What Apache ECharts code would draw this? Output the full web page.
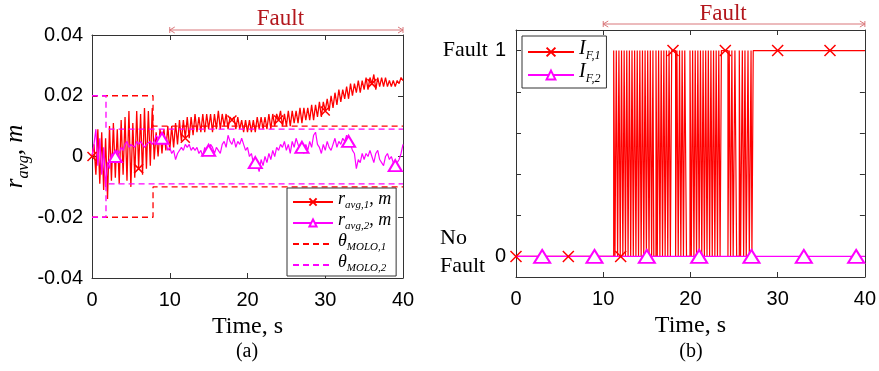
<!DOCTYPE html>
<html>
<head>
<meta charset="utf-8">
<script src="https://cdn.jsdelivr.net/npm/echarts@6/dist/echarts.min.js"></script>
<style>
html,body{margin:0;padding:0;background:#fff;}
#main{width:879px;height:371px;}
</style>
</head>
<body>
<div id="main"></div>
<script>
// panel (a): residuals sampled every 0.25 s, one row per second
var dtA = 0.25;
var r1 = [
  0, 0.004, -0.006, 0.009,
  -0.009, 0.008, -0.011, 0.006,
  -0.014, 0.010, -0.008, 0.011,
  -0.007, 0.009, -0.009, 0.012,
  -0.006, 0.013, -0.008, 0.015,
  -0.010, 0.011, -0.007, 0.015,
  -0.004, 0.014, -0.006, 0.016,
  -0.004, 0.015, -0.003, 0.016,
  -0.001, 0.008, 0.000, 0.009,
  0.001, 0.009, 0.002, 0.010,
  0.002, 0.010, 0.003, 0.011,
  0.004, 0.012, 0.005, 0.012,
  0.006, 0.013, 0.006, 0.013,
  0.007, 0.014, 0.008, 0.013,
  0.008, 0.014, 0.008, 0.014,
  0.009, 0.014, 0.008, 0.014,
  0.009, 0.015, 0.009, 0.014,
  0.010, 0.014, 0.009, 0.013,
  0.012, 0.013, 0.009, 0.013,
  0.009, 0.012, 0.008, 0.012,
  0.008, 0.012, 0.008, 0.012,
  0.008, 0.013, 0.009, 0.013,
  0.009, 0.013, 0.009, 0.014,
  0.009, 0.014, 0.010, 0.014,
  0.012, 0.015, 0.010, 0.014,
  0.010, 0.015, 0.010, 0.015,
  0.011, 0.015, 0.011, 0.016,
  0.011, 0.016, 0.012, 0.016,
  0.012, 0.017, 0.012, 0.017,
  0.013, 0.018, 0.013, 0.018,
  0.015, 0.019, 0.015, 0.020,
  0.016, 0.021, 0.017, 0.022,
  0.018, 0.022, 0.019, 0.023,
  0.019, 0.024, 0.020, 0.024,
  0.021, 0.025, 0.021, 0.025,
  0.022, 0.026, 0.022, 0.026,
  0.024, 0.027, 0.022, 0.026,
  0.023, 0.026, 0.023, 0.026,
  0.023, 0.025, 0.023, 0.025,
  0.023, 0.025, 0.024, 0.026,
  0.025
];
var r2 = [
  0, 0.004, 0.009, -0.003,
  0.006, -0.006, 0.003, -0.010,
  -0.002, -0.004, 0.001, -0.001,
  0.000, 0.002, 0.001, 0.003,
  0.002, 0.004, 0.005, 0.003,
  0.004, 0.004, 0.003, 0.005,
  0.004, 0.005, 0.004, 0.003,
  0.004, 0.004, 0.005, 0.004,
  0.005, 0.007, 0.006, 0.005,
  0.006, 0.004, 0.005, 0.002,
  0.003, 0.001, 0.002, -0.001,
  0.001, 0.001, 0.003, 0.002,
  0.004, 0.003, 0.004, 0.002,
  0.003, 0.002, 0.003, 0.001,
  0.002, 0.000, 0.003, 0.001,
  0.002, 0.004, 0.003, 0.001,
  0.003, 0.002, 0.001, 0.004,
  0.005, 0.003, 0.007, 0.005,
  0.004, 0.006, 0.003, 0.005,
  0.004, 0.006, 0.004, 0.002,
  0.003, 0.000, 0.001, -0.002,
  -0.002, -0.003, -0.005, -0.001,
  -0.003, 0.000, -0.002, 0.001,
  -0.001, 0.002, 0.000, 0.003,
  0.002, 0.004, 0.003, 0.005,
  0.002, 0.004, 0.001, 0.005,
  0.003, 0.006, 0.004, 0.002,
  0.003, 0.001, 0.004, 0.002,
  0.005, 0.003, 0.007, 0.008,
  0.004, 0.003, 0.001, 0.004,
  0.002, 0.005, 0.003, 0.002,
  0.004, 0.006, 0.003, 0.005,
  0.004, 0.006, 0.005, 0.007,
  0.005, 0.004, 0.002, 0.001,
  -0.004, -0.001, -0.002, 0.001,
  -0.001, 0.001, 0.000, 0.002,
  0.000, -0.002, 0.001, 0.002,
  -0.001, -0.002, -0.003, 0.000,
  0.001, -0.001, 0.000, -0.002,
  -0.003, -0.002, -0.001, 0.001,
  0.004
];
var r1Marks = [0, 6, 12, 18, 24, 30, 36];
var r2Marks = [3, 9, 15, 21, 27, 33, 39];

// thresholds
var th1Time = [0, 7.85, 7.85, 40];
var th1Up = [0.02, 0.02, 0.01, 0.01];
var th1Lo = [-0.02, -0.02, -0.01, -0.01];
var th2Time = [0, 1.8, 1.8, 40];
var th2Up = [0.02, 0.02, 0.009, 0.009];
var th2Lo = [-0.02, -0.02, -0.009, -0.009];

// panel (b): intervals where I_F,1 = 1
var iF1On = [
  [11.2,11.35],[11.5,11.65],[11.8,11.95],[12.1,12.25],[12.4,12.55],[12.7,12.85],
  [13.0,13.15],[13.3,13.45],[13.6,13.75],[13.9,14.05],[14.2,14.35],[14.5,14.65],
  [14.8,14.95],[15.1,15.25],[15.4,15.55],[15.7,15.8],[16.05,16.2],[16.35,16.5],
  [16.65,16.8],[16.95,17.1],[17.25,17.4],[17.55,17.7],[17.85,18.3],[18.45,18.6],
  [18.75,18.9],[19.05,19.2],[19.35,19.55],[19.95,20.1],[20.25,20.4],[20.55,20.7],
  [20.85,21.0],[21.15,21.3],[21.45,21.6],[21.75,21.9],[22.05,22.2],[22.35,22.5],
  [22.65,22.8],[22.95,23.1],[23.25,23.4],[23.55,24.3],[24.45,24.6],[24.75,24.9],
  [25.1,25.3],[25.6,25.75],[25.95,26.1],[26.25,26.4],[26.6,26.75],[26.95,27.05],
  [27.2,40]
];
var iF1Marks = [0, 6, 12, 18, 24, 30, 36];
var iF1MarkVal = [0, 0, 0, 1, 1, 1, 1];
var iF2Time = [0, 3, 9, 15, 21, 27, 33, 39, 40];
var iF2Val = [0, 0, 0, 0, 0, 0, 0, 0, 0];
var iF2Marks = [3, 9, 15, 21, 27, 33, 39];

var RED = '#ff0000', MAG = '#ff00ff', AX = '#333333';
var crossPath = 'path://M0,0L10,10M10,0L0,10';
var serif = '"Liberation Serif", "DejaVu Serif", serif';
var sans = '"Liberation Sans", Arial, sans-serif';

function withMarks(times, vals, marks) {
  return times.map(function (t, i) {
    var p = { value: [t, vals[i]] };
    if (marks.indexOf(t) < 0) p.symbol = 'none';
    return p;
  });
}
var tA = r1.map(function (v, i) { return i * dtA; });
var r1Data = withMarks(tA, r1, r1Marks);
var r2Data = withMarks(tA, r2, r2Marks);

function pairs(t, v) { return t.map(function (x, i) { return [x, v[i]]; }); }

// step signal for I_F,1 plus its marker points
var f1 = [];
iF1On.forEach(function (iv) {
  f1.push({ value: [iv[0], 0], symbol: 'none' });
  f1.push({ value: [iv[0], 1], symbol: 'none' });
  f1.push({ value: [iv[1], 1], symbol: 'none' });
  if (iv[1] < 40) f1.push({ value: [iv[1], 0], symbol: 'none' });
});
iF1Marks.forEach(function (m, i) { f1.push({ value: [m, iF1MarkVal[i]] }); });
f1.sort(function (a, b) { return a.value[0] - b.value[0]; });
var f2 = withMarks(iF2Time, iF2Val, iF2Marks);

function richFor(big, small, pad) {
  return {
    i: { fontFamily: serif, fontStyle: 'italic', fontSize: big, lineHeight: big, padding: [0, 0, pad, 0], verticalAlign: 'bottom', color: '#000' },
    s: { fontFamily: serif, fontStyle: 'italic', fontSize: small, lineHeight: small, verticalAlign: 'bottom', color: '#000' }
  };
}
var legendNames = {
  r1: '{i|r}{s|avg,1}{i|, m}',
  r2: '{i|r}{s|avg,2}{i|, m}',
  th1: '{i|θ}{s|MOLO,1}',
  th2: '{i|θ}{s|MOLO,2}',
  f1: '{i|I}{s|F,1}',
  f2: '{i|I}{s|F,2}'
};

function boxAxis(gridIndex, min, max, pos, ticks) {
  var ax = {
    gridIndex: gridIndex, type: 'value', min: min, max: max, position: pos,
    axisLine: { show: true, onZero: false, lineStyle: { color: AX, width: 1 } },
    axisTick: { show: true, inside: true, length: 5, lineStyle: { color: AX } },
    axisLabel: { show: false },
    splitLine: { show: false }
  };
  if (ticks) ax.axisTick.customValues = ticks; else ax.interval = (max - min) / 4;
  return ax;
}
function mainX(gridIndex) {
  return {
    gridIndex: gridIndex, type: 'value', min: 0, max: 40, interval: 10,
    name: 'Time, s', nameLocation: 'middle', nameGap: 37,
    nameTextStyle: { fontFamily: serif, fontSize: 24, color: '#000' },
    axisLine: { onZero: false, lineStyle: { color: AX } },
    axisTick: { inside: true, length: 5, lineStyle: { color: AX } },
    axisLabel: { fontFamily: sans, fontSize: 20, color: '#000', margin: 12 },
    splitLine: { show: false }
  };
}
var bTicks = [0, 0.2, 0.4, 0.6, 0.8, 1];

var option = {
  animation: false,
  backgroundColor: '#fff',
  grid: [
    { left: 92, top: 35, width: 311, height: 243 },
    { left: 516, top: 30, width: 349, height: 247 }
  ],
  xAxis: [
    mainX(0),
    boxAxis(0, 0, 40, 'top'),
    mainX(1),
    boxAxis(1, 0, 40, 'top')
  ],
  yAxis: [
    {
      gridIndex: 0, type: 'value', min: -0.04, max: 0.04, interval: 0.02,
      name: '{i|r}{s|avg}{i|, m}', nameLocation: 'middle', nameGap: 60, nameRotate: 90,
      nameTextStyle: { rich: richFor(25, 16, 4) },
      axisLine: { onZero: false, lineStyle: { color: AX } },
      axisTick: { inside: true, length: 5, lineStyle: { color: AX } },
      axisLabel: { fontFamily: sans, fontSize: 20, color: '#000', margin: 9 },
      splitLine: { show: false }
    },
    boxAxis(0, -0.04, 0.04, 'right'),
    {
      gridIndex: 1, type: 'value', min: -0.1, max: 1.1,
      axisLine: { onZero: false, lineStyle: { color: AX } },
      axisTick: { inside: true, length: 5, lineStyle: { color: AX }, customValues: bTicks },
      axisLabel: {
        customValues: [0, 1], margin: 10,
        formatter: function (v) { return v === 1 ? '{s|Fault}{n|1}' : '{n|0}'; },
        rich: {
          s: { fontFamily: serif, fontSize: 22, color: '#000', padding: [0, 7, 0, 0] },
          n: { fontFamily: sans, fontSize: 20, color: '#000' }
        }
      },
      splitLine: { show: false }
    },
    boxAxis(1, -0.1, 1.1, 'right', bTicks)
  ],
  legend: [
    {
      data: ['r1', 'r2', { name: 'th1', itemStyle: { opacity: 0 } }, { name: 'th2', itemStyle: { opacity: 0 } }],
      left: 287, top: 188, orient: 'vertical',
      itemWidth: 40, itemHeight: 9, itemGap: 0,
      padding: [2, 5, 2, 5],
      backgroundColor: '#fff', borderColor: AX, borderWidth: 1, borderRadius: 0,
      formatter: function (n) { return legendNames[n]; },
      textStyle: { rich: richFor(18, 11, 3) }
    },
    {
      data: ['f1', 'f2'], left: 522, top: 36, orient: 'vertical',
      itemWidth: 46, itemHeight: 11, itemGap: 0,
      padding: [3, 6, 3, 5],
      backgroundColor: '#fff', borderColor: AX, borderWidth: 1, borderRadius: 0,
      formatter: function (n) { return legendNames[n]; },
      textStyle: { rich: richFor(20, 12, 3) }
    }
  ],
  series: [
    {
      name: 'r1', type: 'line', xAxisIndex: 0, yAxisIndex: 0, data: r1Data,
      symbol: crossPath, symbolSize: 9, symbolKeepAspect: true,
      lineStyle: { color: RED, width: 1.3 },
      itemStyle: { color: RED, borderColor: RED, borderWidth: 1.5 }
    },
    {
      name: 'r2', type: 'line', xAxisIndex: 0, yAxisIndex: 0, data: r2Data,
      symbol: 'emptyTriangle', symbolSize: [13, 11],
      lineStyle: { color: MAG, width: 1.2 },
      itemStyle: { color: MAG, borderColor: MAG, borderWidth: 1.2 }
    },
    {
      name: 'th1', type: 'line', xAxisIndex: 0, yAxisIndex: 0, data: pairs(th1Time, th1Up),
      symbol: 'none', lineStyle: { color: RED, width: 1.3, type: [6, 4] }, itemStyle: { color: RED }
    },
    {
      name: 'th1', type: 'line', xAxisIndex: 0, yAxisIndex: 0, data: pairs(th1Time, th1Lo),
      symbol: 'none', lineStyle: { color: RED, width: 1.3, type: [6, 4] }, itemStyle: { color: RED }
    },
    {
      name: 'th2', type: 'line', xAxisIndex: 0, yAxisIndex: 0, data: pairs(th2Time, th2Up),
      symbol: 'none', lineStyle: { color: MAG, width: 1.3, type: [6, 4] }, itemStyle: { color: MAG }
    },
    {
      name: 'th2', type: 'line', xAxisIndex: 0, yAxisIndex: 0, data: pairs(th2Time, th2Lo),
      symbol: 'none', lineStyle: { color: MAG, width: 1.3, type: [6, 4] }, itemStyle: { color: MAG }
    },
    {
      name: 'f1', type: 'line', xAxisIndex: 2, yAxisIndex: 2, data: f1,
      symbol: crossPath, symbolSize: 11, symbolKeepAspect: true,
      lineStyle: { color: RED, width: 1.2 },
      itemStyle: { color: RED, borderColor: RED, borderWidth: 1.5 }
    },
    {
      name: 'f2', type: 'line', xAxisIndex: 2, yAxisIndex: 2, data: f2,
      symbol: 'emptyTriangle', symbolSize: [16, 13],
      lineStyle: { color: MAG, width: 1.3 },
      itemStyle: { color: MAG, borderColor: MAG, borderWidth: 1.3 }
    }
  ]
};

var chart = echarts.init(document.getElementById('main'));
chart.setOption(option);

// "Fault" span annotations above each panel and the panel captions
function faultMark(xi, yLine, yText, dx) {
  var a = chart.convertToPixel({ xAxisIndex: xi }, 10);
  var b = chart.convertToPixel({ xAxisIndex: xi }, 40);
  var c = '#d9777a';
  return [
    { type: 'line', shape: { x1: a, y1: yLine, x2: b, y2: yLine }, style: { stroke: c, lineWidth: 1 } },
    { type: 'polyline', shape: { points: [[a + 5, yLine - 3], [a, yLine], [a + 5, yLine + 3]] }, style: { stroke: c, fill: null, lineWidth: 1 } },
    { type: 'polyline', shape: { points: [[b - 5, yLine - 3], [b, yLine], [b - 5, yLine + 3]] }, style: { stroke: c, fill: null, lineWidth: 1 } },
    { type: 'line', shape: { x1: a, y1: yLine - 3, x2: a, y2: yLine + 3 }, style: { stroke: c, lineWidth: 1 } },
    { type: 'line', shape: { x1: b, y1: yLine - 3, x2: b, y2: yLine + 3 }, style: { stroke: c, lineWidth: 1 } },
    { type: 'text', style: { text: 'Fault', x: (a + b) / 2 + dx, y: yText, align: 'center', verticalAlign: 'middle', fontFamily: serif, fontSize: 23, fill: '#b3161c' } }
  ];
}
var g = [].concat(faultMark(0, 30, 19, -6), faultMark(2, 24, 14, -11));
g.push({ type: 'text', style: { text: '(a)', x: 247, y: 352, align: 'center', verticalAlign: 'middle', fontFamily: serif, fontSize: 20, fill: '#000' } });
g.push({ type: 'text', style: { text: '(b)', x: 691, y: 352, align: 'center', verticalAlign: 'middle', fontFamily: serif, fontSize: 20, fill: '#000' } });
g.push({ type: 'text', style: { text: 'No', x: 440, y: 238, verticalAlign: 'middle', fontFamily: serif, fontSize: 22, fill: '#000' } });
g.push({ type: 'text', style: { text: 'Fault', x: 440, y: 266, verticalAlign: 'middle', fontFamily: serif, fontSize: 22, fill: '#000' } });
chart.setOption({ graphic: g });
</script>
</body>
</html>
